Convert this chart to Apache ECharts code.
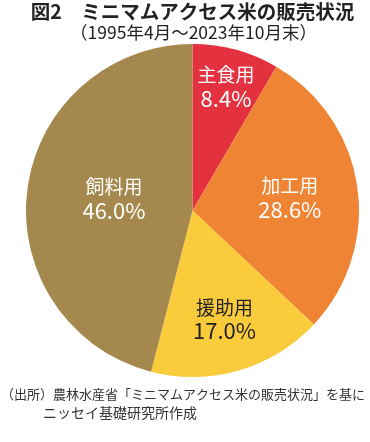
<!DOCTYPE html>
<html><head><meta charset="utf-8">
<script src="https://cdn.jsdelivr.net/npm/echarts@6/dist/echarts.min.js"></script>
<style>html,body{margin:0;padding:0;background:#fff;}#c{width:370px;height:442px;}</style>
</head><body><div id="c"></div>
<script>
const categories = ['主食用', '加工用', '援助用', '飼料用'];
const values = [8.4, 28.6, 17.0, 46.0];
const colors = ['#E3313F', '#EE8434', '#FACB3B', '#A5884D'];
const labelColors = ['#fff', '#fff', '#222', '#fff'];
const labelShift = [[11, -40], [12, 0], [8, 26], [7, -1]];
const titleText = '図2　ミニマムアクセス米の販売状況';
const subText = '（1995年4月～2023年10月末）';
const sourceLines = ['（出所）農林水産省「ミニマムアクセス米の販売状況」を基に', 'ニッセイ基礎研究所作成'];

const F = '"Noto Sans CJK JP", "Noto Sans", sans-serif';
const chart = echarts.init(document.getElementById('c'), null, {renderer: 'canvas'});
chart.setOption({
  backgroundColor: '#fff',
  animation: false,
  graphic: [
    {type: 'text', x: 192.5, y: 12, style: {text: titleText, x: 0, y: 0, align: 'center', verticalAlign: 'middle',
      font: 'bold 19.5px ' + F, fill: '#222'}},
    {type: 'text', x: 193.5, y: 32, style: {text: subText, x: 0, y: 0, align: 'center', verticalAlign: 'middle',
      font: '17.5px ' + F, fill: '#222'}},
    {type: 'text', x: 1, y: 394, style: {text: sourceLines[0], x: 0, y: 0, align: 'left', verticalAlign: 'middle',
      font: '13px ' + F, fill: '#333'}},
    {type: 'text', x: 43, y: 413, style: {text: sourceLines[1], x: 0, y: 0, align: 'left', verticalAlign: 'middle',
      font: '14px ' + F, fill: '#333'}}
  ],
  series: [{
    type: 'pie',
    center: [192.5, 210.5],
    radius: 166.5,
    startAngle: 90,
    clockwise: true,
    avoidLabelOverlap: false,
    label: {
      show: true,
      position: 'inside',
      fontFamily: F,
      formatter: function (p) { return '{a|' + p.name + '}\n{b|' + p.value.toFixed(1) + '%}'; },
      rich: {
        a: {fontFamily: F, fontSize: 19, lineHeight: 23},
        b: {fontFamily: F, fontSize: 22, lineHeight: 24}
      }
    },
    labelLine: {show: false},
    labelLayout: function (p) {
      const s = labelShift[p.dataIndex];
      return {dx: s[0], dy: s[1]};
    },
    data: categories.map((c, i) => ({
      name: c, value: values[i],
      itemStyle: {color: colors[i]},
      label: {color: labelColors[i], rich: {a: {color: labelColors[i]}, b: {color: labelColors[i]}}}
    }))
  }]
});
</script></body></html>
